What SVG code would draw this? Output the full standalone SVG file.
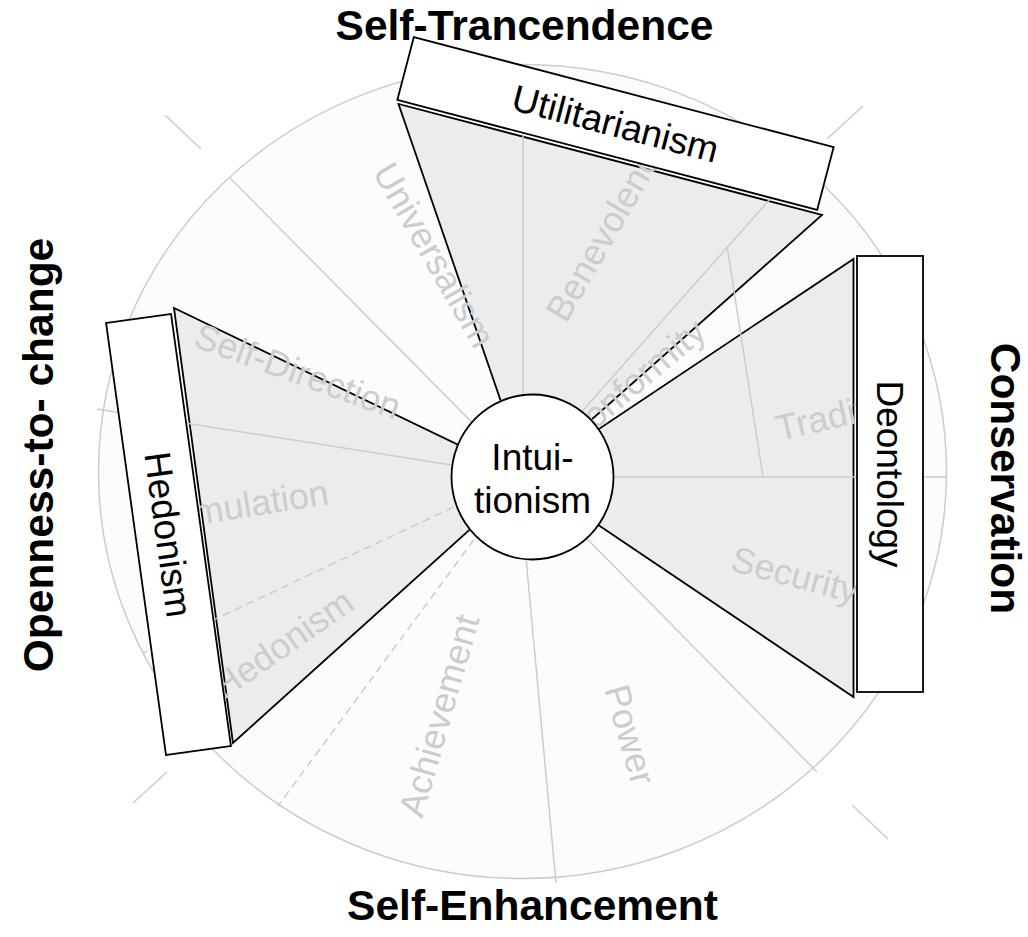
<svg xmlns="http://www.w3.org/2000/svg" width="1028" height="937" viewBox="0 0 1028 937">
<style>
.grey{stroke:#cccccc;stroke-width:1.5;fill:none}
.dash{stroke:#cccccc;stroke-width:1.5;fill:none;stroke-dasharray:8 5}
.lbl{font-family:"Liberation Sans",Arial,sans-serif;font-size:36px;fill:#cccccc}
.wedge{fill:#ececec;stroke:#000;stroke-width:1.8;stroke-linejoin:miter}
.box{fill:#fff;stroke:#000;stroke-width:1.8}
.txt{font-family:"Liberation Sans",Arial,sans-serif;font-size:37px;fill:#000;text-anchor:middle}
.title{font-family:"Liberation Sans",Arial,sans-serif;font-size:42.5px;font-weight:bold;fill:#000;text-anchor:middle}
</style>
<rect x="0" y="0" width="1028" height="937" fill="#ffffff"/>
<g id="wheel">
<ellipse cx="522.5" cy="471.5" rx="424" ry="407" fill="#fbfcfe" stroke="#cccccc" stroke-width="1.5"/>
</g>
<g id="connectors">
<polygon class="wedge" points="527,477 398.5,104 822,215"/>
<polygon class="wedge" points="527,477 853.5,259 853.5,697"/>
<polygon class="wedge" points="527,478 174,308 233,743"/>
</g>
<g id="dividers">
<line class="grey" x1="526" y1="477" x2="230" y2="178"/>
<line class="grey" x1="523" y1="477" x2="523" y2="64"/>
<line class="grey" x1="524" y1="477" x2="801" y2="164"/>
<line class="grey" x1="727" y1="246" x2="763" y2="477"/>
<line class="grey" x1="526" y1="477" x2="947" y2="477"/>
<line class="grey" x1="526" y1="477" x2="817" y2="772"/>
<line class="grey" x1="518.5" y1="477" x2="556" y2="883"/>
<line class="dash" x1="520" y1="477" x2="278" y2="806"/>
<line class="dash" x1="524" y1="474" x2="143" y2="653"/>
<line class="grey" x1="524" y1="476.5" x2="97" y2="409"/>
<line class="grey" x1="165" y1="115" x2="201" y2="149"/>
<line class="grey" x1="827" y1="139" x2="863" y2="106"/>
<line class="grey" x1="852" y1="805" x2="888" y2="839"/>
<line class="grey" x1="133" y1="803" x2="167" y2="772"/>
</g>
<g id="value-labels">
<text class="lbl" transform="translate(372,172) rotate(60)">Universalism</text>
<text class="lbl" transform="translate(566,324) rotate(-60)">Benevolence</text>
<text class="lbl" transform="translate(575,447) rotate(-40)">Conformity</text>
<text class="lbl" transform="translate(779,441) rotate(-13)">Tradition</text>
<text class="lbl" transform="translate(729,570) rotate(15)">Security</text>
<text class="lbl" text-anchor="middle" transform="translate(618,738) rotate(74)">Power</text>
<text class="lbl" text-anchor="middle" transform="translate(451,719) rotate(-74)">Achievement</text>
<text class="lbl" text-anchor="middle" transform="translate(290,654) rotate(-35)">Hedonism</text>
<text class="lbl" text-anchor="end" transform="translate(330,504) rotate(-9)">Stimulation</text>
<text class="lbl" transform="translate(192,346) rotate(20)">Self-Direction</text>
</g>
<g id="utilitarianism" transform="translate(615.5,123.5) rotate(14.68)">
<rect class="box" x="-217" y="-32.5" width="434" height="65"/>
<text class="txt" x="0" y="13">Utilitarianism</text>
</g>
<g id="deontology" transform="translate(890,474)">
<rect class="box" x="-33" y="-218" width="66" height="436"/>
<text class="txt" transform="rotate(90)" x="0" y="13">Deontology</text>
</g>
<g id="hedonism" transform="translate(168.5,534.5) rotate(-7.9)">
<rect class="box" x="-32.8" y="-218" width="65.6" height="436"/>
<text class="txt" transform="rotate(90)" x="0" y="13">Hedonism</text>
</g>
<g id="intuitionism">
<ellipse cx="532.5" cy="477" rx="81" ry="82.5" fill="#fff" stroke="#000" stroke-width="1.8"/>
<text class="txt" x="532.5" y="469.5">Intui-</text>
<text class="txt" x="532.5" y="513">tionism</text>
</g>
<g id="titles">
<text class="title" x="524.5" y="40">Self-Trancendence</text>
<text class="title" x="532.5" y="920">Self-Enhancement</text>
<text class="title" transform="translate(53,455) rotate(-90)">Openness-to- change</text>
<text class="title" transform="translate(991,478.5) rotate(90)">Conservation</text>
</g>
</svg>
